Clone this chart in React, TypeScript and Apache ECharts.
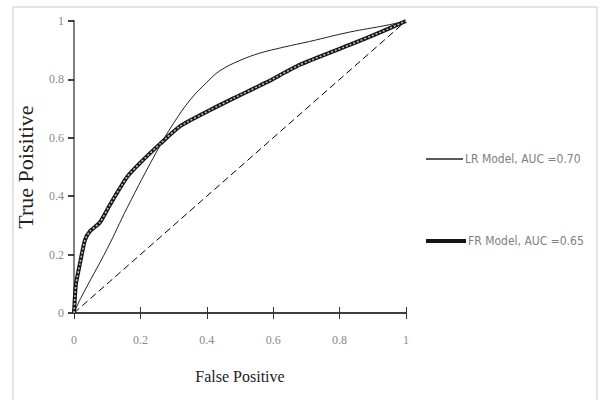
import React, { useEffect, useRef } from "react";
import * as echarts from "echarts";

const lrFpr = [0, 0.02, 0.1, 0.16, 0.25, 0.3, 0.35, 0.4, 0.44, 0.5, 0.56, 0.63, 0.71, 0.83, 0.94, 1];
const lrTpr = [0, 0.05, 0.22, 0.36, 0.555, 0.65, 0.73, 0.79, 0.83, 0.865, 0.89, 0.91, 0.93, 0.962, 0.985, 1];
const frFpr = [0, 0.003, 0.006, 0.018, 0.033, 0.048, 0.078, 0.108, 0.16, 0.2, 0.26, 0.32, 0.41, 0.48, 0.58, 0.68, 0.83, 0.92, 1];
const frTpr = [0, 0.06, 0.1, 0.17, 0.25, 0.28, 0.31, 0.37, 0.466, 0.515, 0.58, 0.64, 0.695, 0.735, 0.79, 0.85, 0.918, 0.96, 1];
const diagFpr = [0, 1];
const diagTpr = [0, 1];
const lrName = "LR Model, AUC =0.70";
const frName = "FR Model, AUC =0.65";

const zip = (a: number[], b: number[]) => a.map((v, i) => [v, b[i]]);

export default function App() {
  const ref = useRef<HTMLDivElement>(null);
  useEffect(() => {
    if (!ref.current) return;
    const chart = echarts.init(ref.current, null, { renderer: "svg" });
    const tickLabel = { color: "#8a8a8a", fontFamily: "Liberation Serif", fontSize: 12 };
    const legendText = {
      color: "#808080",
      fontFamily: "'DejaVu Sans Condensed', 'Liberation Sans Narrow', 'Liberation Sans', sans-serif",
      fontSize: 12,
      padding: [0, 0, 0, -3],
    };
    chart.setOption({
      animation: false,
      backgroundColor: "#fff",
      graphic: [
        {
          type: "rect",
          shape: { x: 13, y: 7, width: 584, height: 400 },
          style: { fill: "none", stroke: "#c8c8c8", lineWidth: 1 },
          silent: true,
        },
      ],
      grid: { left: 74, right: 195, top: 21, bottom: 87 },
      legend: [
        {
          data: [{ name: lrName, icon: "rect" }],
          left: 421,
          top: 148,
          itemWidth: 37,
          itemHeight: 1.5,
          textStyle: legendText,
        },
        {
          data: [{ name: frName, icon: "rect" }],
          left: 421,
          top: 230,
          itemWidth: 40,
          itemHeight: 4,
          textStyle: legendText,
        },
      ],
      xAxis: [
        {
          type: "value",
          min: 0,
          max: 1,
          interval: 0.2,
          name: "False Positive",
          nameLocation: "middle",
          nameGap: 55,
          nameTextStyle: { color: "#222", fontFamily: "Liberation Serif", fontSize: 16 },
          axisLine: { show: true, lineStyle: { color: "#000", width: 1.5 } },
          axisTick: { show: true, length: 6, lineStyle: { color: "#333" } },
          axisLabel: { ...tickLabel, margin: 21, formatter: (v: number) => String(+v.toFixed(1)) },
          splitLine: { show: false },
        },
        {
          type: "value",
          min: 0,
          max: 1,
          interval: 0.2,
          position: "bottom",
          axisLine: { show: false },
          axisTick: { show: true, inside: true, length: 6, lineStyle: { color: "#333" } },
          axisLabel: { show: false },
          splitLine: { show: false },
        },
      ],
      yAxis: {
        type: "value",
        min: 0,
        max: 1,
        interval: 0.2,
        name: "True Poisitive",
        nameLocation: "middle",
        nameGap: 38,
        nameTextStyle: { color: "#222", fontFamily: "Liberation Serif", fontSize: 22 },
        axisLine: { show: true, lineStyle: { color: "#808080", width: 2 } },
        axisTick: { show: true, length: 6, lineStyle: { color: "#000", width: 1.5 } },
        axisLabel: { ...tickLabel, margin: 10, formatter: (v: number) => String(+v.toFixed(1)) },
        splitLine: { show: false },
      },
      series: [
        {
          name: "diag",
          type: "line",
          data: zip(diagFpr, diagTpr),
          symbol: "none",
          lineStyle: { color: "#000", width: 1, type: [7, 4] },
        },
        {
          name: lrName,
          type: "line",
          data: zip(lrFpr, lrTpr),
          symbol: "none",
          smooth: 0.4,
          lineStyle: { color: "#222", width: 1 },
          itemStyle: { color: "#222" },
        },
        {
          name: frName,
          type: "line",
          data: zip(frFpr, frTpr),
          symbol: "none",
          smooth: 0.2,
          lineStyle: { color: "#151515", width: 4 },
          itemStyle: { color: "#151515" },
        },
        {
          name: "frOverlay",
          type: "line",
          data: zip(frFpr, frTpr),
          symbol: "none",
          smooth: 0.2,
          lineStyle: { color: "#bdbdbd", width: 1.6, type: [2, 2] },
        },
      ],
    });
    return () => chart.dispose();
  }, []);
  return <div ref={ref} style={{ position: "fixed", left: 0, top: 0, width: 601, height: 400 }} />;
}
